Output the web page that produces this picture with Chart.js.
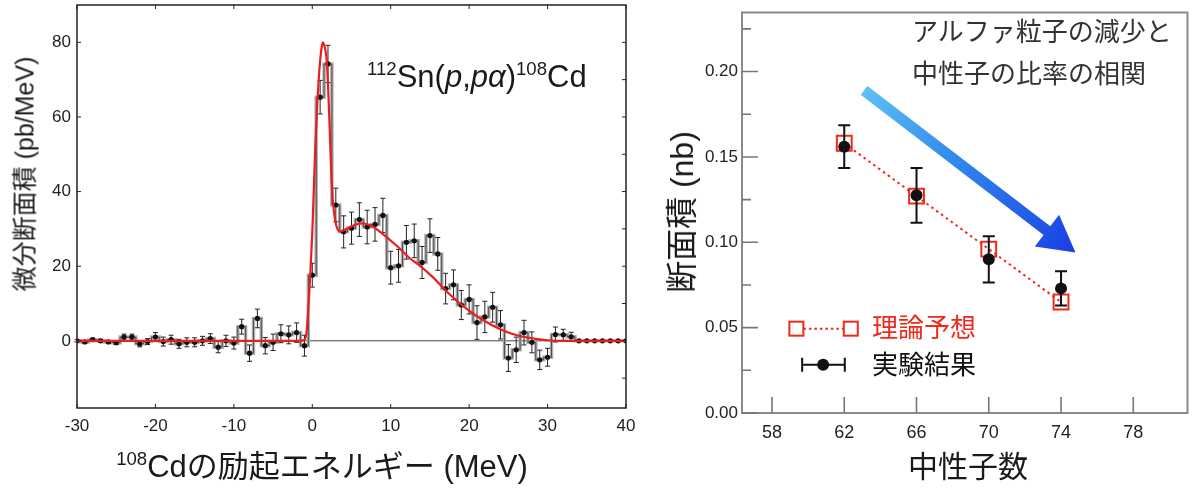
<!DOCTYPE html>
<html><head><meta charset="utf-8">
<script src="https://cdn.jsdelivr.net/npm/chart.js@4.4.0/dist/chart.umd.min.js"></script>
<style>
html,body{margin:0;padding:0;background:#fff;width:1200px;height:490px;overflow:hidden;font-family:"Liberation Sans","Noto Sans CJK JP",sans-serif;}
.box{position:absolute;top:0;}
.t{position:absolute;white-space:nowrap;line-height:1;color:#1a1a1a;}
.c{transform:translate(-50%,-50%);}
.r{transform:translate(-50%,-50%) rotate(-90deg);}
sup{font-size:0.6em;vertical-align:0;position:relative;top:-0.62em;}
</style></head><body>
<div class="box" style="left:0;width:660px;height:490px"><canvas id="c1" width="660" height="490"></canvas></div>
<div class="box" style="left:660px;width:540px;height:490px"><canvas id="c2" width="540" height="490"></canvas></div>

<div class="t r" style="left:25px;top:174px;font-size:25px;">微分断面積 (pb/MeV)</div>
<div class="t c" style="left:322px;top:466px;font-size:31px;"><sup>108</sup>Cdの励起エネルギー (MeV)</div>
<div class="t" style="left:367px;top:61px;font-size:31px;"><sup>112</sup>Sn(<i>p</i>,<i>pα</i>)<sup>108</sup>Cd</div>

<div class="t r" style="left:682px;top:212px;font-size:32px;">断面積 (nb)</div>
<div class="t c" style="left:968px;top:467px;font-size:30px;">中性子数</div>
<div class="t" style="left:912px;top:19px;font-size:26px;color:#333;">アルファ粒子の減少と</div>
<div class="t" style="left:912px;top:61px;font-size:26px;color:#333;">中性子の比率の相関</div>
<div class="t" style="left:872px;top:315px;font-size:26px;color:#f0281c;">理論予想</div>
<div class="t" style="left:872px;top:352px;font-size:26px;color:#111;">実験結果</div>

<script>
// ---------- Left chart data ----------
const energy = [-30,-29,-28,-27,-26,-25,-24,-23,-22,-21,-20,-19,-18,-17,-16,-15,-14,-13,-12,-11,-10,-9,-8,-7,-6,-5,-4,-3,-2,-1,0,1,2,3,4,5,6,7,8,9,10,11,12,13,14,15,16,17,18,19,20,21,22,23,24,25,26,27,28,29,30,31,32,33,34,35,36,37,38,39,40];
const counts = [0,-0.3,0.3,0,-0.3,-0.5,1.0,1.0,-0.8,-0.2,1.0,-0.2,0.3,-0.8,-0.4,-0.4,0,0.6,-1.7,0,-0.6,3.8,-3.3,6.0,-1.3,-0.4,1.9,1.6,2.2,-1.3,17.6,65.3,74.2,36.4,29.2,30.2,32.5,30.5,31.2,33.6,19.6,20.1,26.4,26.8,21.0,28.2,23.3,14.0,15.0,9.6,11.1,4.9,6.4,9.0,4.3,-4.6,-2.4,2.2,-0.4,-5.1,-4.4,1.7,1.6,1.1,0,0,0,0,0,0,0];
const errors = [0.3,0.3,0.4,0.4,0.4,0.5,0.8,0.8,0.8,0.8,1.2,1.2,1.2,1.2,1.2,1.2,1.2,1.3,1.5,1.5,1.6,2.0,2.2,2.5,2.2,2.2,2.4,2.4,2.6,2.8,3.2,4.5,5.0,4.5,4.3,4.3,4.5,4.5,4.5,4.6,4.4,4.4,4.5,4.5,4.3,4.5,4.4,4.1,4.0,3.9,3.9,4.5,4.2,4.0,3.8,3.6,3.4,3.3,2.8,2.6,2.4,2.0,1.5,1.2,0,0,0,0,0,0,0];
const fitEnergy = [-30,-10,-2,-1.0,-0.7,-0.5,-0.25,0,0.2,0.4,0.65,0.9,1.15,1.35,1.55,1.8,2.0,2.2,2.4,2.6,2.9,3.2,3.5,4.2,5.3,6.3,7.6,9.0,10.9,12.5,13.5,15.3,17.4,19.6,21.8,23.9,26.1,28.3,30,32,36,40];
const fitValue = [0,0,0,0.2,3,9,18,29,41,53,64,72.5,78,80,79,76,69,58,46,38,32.5,30,29.3,29.8,31,31.5,30.8,28.6,25.2,22,20.5,17.2,12.7,8.7,5.5,3.2,1.5,0.6,0.15,0,0,0];
const xTicksLeft = [-30,-20,-10,0,10,20,30,40];
const yTicksLeft = [0,20,40,60,80];
const yRightTicksLeft = [-10,0,10,20,30,40,50,60,70,80];

// ---------- Right chart data ----------
const neutrons = [62,66,70,74];
const theory = [0.158,0.127,0.096,0.065];
const experiment = [0.156,0.1275,0.090,0.073];
const expErr = [0.0125,0.016,0.0135,0.010];
const xTicksRight = [58,62,66,70,74,78];
const yTicksRight = [0,0.05,0.10,0.15,0.20];
const yMinorRight = [0.025,0.075,0.125,0.175,0.225];
const arrowFrom = [63.1,0.189];
const arrowTo = [74.8,0.094];

const FONT = '"Liberation Sans","Noto Sans CJK JP",sans-serif';
const RED = '#ee1c1c';

function fixedTicks(list){ return s => { s.ticks = list.map(v => ({value:v})); }; }
function zeroPad(w,h){ return s => { if(w!=null) s.width=w; if(h!=null) s.height=h; s.paddingTop=0; s.paddingBottom=0; s.paddingLeft=0; s.paddingRight=0; }; }

const leftDeco = {
  id:'leftDeco',
  beforeDatasetsDraw(chart){
    const {ctx, chartArea:a, scales:{y}} = chart;
    const y0 = y.getPixelForValue(0);
    ctx.save(); ctx.strokeStyle='#444'; ctx.lineWidth=1;
    ctx.beginPath(); ctx.moveTo(a.left,y0); ctx.lineTo(a.right,y0); ctx.stroke(); ctx.restore();
  },
  beforeDatasetDraw(chart,args){
    if(args.index!==1) return;
    const {ctx, scales:{x,y}} = chart;
    ctx.save(); ctx.strokeStyle='#222'; ctx.lineWidth=1;
    energy.forEach((e,i)=>{
      const err=errors[i]; if(!err) return;
      const cx=x.getPixelForValue(e);
      const y1=y.getPixelForValue(counts[i]+err), y2=y.getPixelForValue(counts[i]-err);
      ctx.beginPath();
      ctx.moveTo(cx,y1); ctx.lineTo(cx,y2);
      ctx.moveTo(cx-2.5,y1); ctx.lineTo(cx+2.5,y1);
      ctx.moveTo(cx-2.5,y2); ctx.lineTo(cx+2.5,y2);
      ctx.stroke();
    });
    ctx.restore();
  },
  afterDraw(chart){
    const {ctx, chartArea:a, scales:{x,y}} = chart;
    ctx.save(); ctx.strokeStyle='#222'; ctx.lineWidth=1.5;
    ctx.strokeRect(a.left,a.top,a.right-a.left,a.bottom-a.top);
    ctx.lineWidth=1; ctx.beginPath();
    xTicksLeft.forEach(v=>{ const p=x.getPixelForValue(v);
      ctx.moveTo(p,a.bottom); ctx.lineTo(p,a.bottom-4);
      ctx.moveTo(p,a.top); ctx.lineTo(p,a.top+4); });
    yTicksLeft.forEach(v=>{ const p=y.getPixelForValue(v);
      ctx.moveTo(a.left,p); ctx.lineTo(a.left+4,p); });
    yRightTicksLeft.forEach(v=>{ const p=y.getPixelForValue(v);
      ctx.moveTo(a.right,p); ctx.lineTo(a.right-4,p); });
    ctx.stroke(); ctx.restore();
  }
};

new Chart(document.getElementById('c1'), {
  type:'line',
  data:{ datasets:[
    { label:'fit', data: fitEnergy.map((e,i)=>({x:e,y:fitValue[i]})), borderColor:RED, borderWidth:2.2,
      pointRadius:0, cubicInterpolationMode:'monotone', fill:false },
    { label:'data', type:'scatter', data: energy.map((e,i)=>({x:e,y:counts[i]})), showLine:false,
      pointRadius:2.6, pointBackgroundColor:'#111', pointBorderColor:'#111', pointBorderWidth:0 },
    { label:'histTop', data: energy.map((e,i)=>({x:e,y:counts[i]})), stepped:'middle', borderColor:'#333',
      borderWidth:0.8, pointRadius:0, fill:false },
    { label:'histShade', data: energy.map((e,i)=>({x:e,y:counts[i]})), stepped:'middle', borderColor:'#b0b0b0',
      borderWidth:3.5, pointRadius:0, fill:false }
  ]},
  options:{
    responsive:false, animation:false, events:[],
    layout:{padding:{left:0,right:34,top:5,bottom:0}},
    plugins:{legend:{display:false}, tooltip:{enabled:false}},
    scales:{
      x:{ type:'linear', min:-30, max:40, grid:{display:false, drawTicks:false}, border:{display:false},
          afterBuildTicks: fixedTicks(xTicksLeft), afterFit: zeroPad(null,82),
          ticks:{ padding:8, color:'#222', font:{family:FONT,size:17}, callback:v=>String(v), maxRotation:0, autoSkip:false } },
      y:{ type:'linear', min:-18, max:90, grid:{display:false, drawTicks:false}, border:{display:false},
          afterBuildTicks: fixedTicks(yTicksLeft), afterFit: zeroPad(77,null),
          ticks:{ padding:6, color:'#222', font:{family:FONT,size:17}, callback:v=>String(v), autoSkip:false } }
    }
  },
  plugins:[leftDeco]
});

const rightDeco = {
  id:'rightDeco',
  beforeDatasetDraw(chart,args){
    if(args.index!==0) return;
    const {ctx, scales:{x,y}} = chart;
    ctx.save(); ctx.strokeStyle='#111'; ctx.lineWidth=2;
    neutrons.forEach((n,i)=>{
      const cx=x.getPixelForValue(n);
      const y1=y.getPixelForValue(experiment[i]+expErr[i]), y2=y.getPixelForValue(experiment[i]-expErr[i]);
      ctx.beginPath();
      ctx.moveTo(cx,y1); ctx.lineTo(cx,y2);
      ctx.moveTo(cx-6,y1); ctx.lineTo(cx+6,y1);
      ctx.moveTo(cx-6,y2); ctx.lineTo(cx+6,y2);
      ctx.stroke();
    });
    ctx.restore();
  },
  afterDraw(chart){
    const {ctx, chartArea:a, scales:{x,y}} = chart;
    ctx.save();
    ctx.strokeStyle='#8a8a8a'; ctx.lineWidth=2;
    ctx.strokeRect(a.left,a.top,a.right-a.left,a.bottom-a.top);
    ctx.lineWidth=1.6; ctx.strokeStyle='#777'; ctx.beginPath();
    xTicksRight.forEach(v=>{ const p=x.getPixelForValue(v); ctx.moveTo(p,a.bottom); ctx.lineTo(p,a.bottom-16); });
    yTicksRight.forEach(v=>{ const p=y.getPixelForValue(v); ctx.moveTo(a.left,p); ctx.lineTo(a.left+16,p); });
    yMinorRight.forEach(v=>{ const p=y.getPixelForValue(v); ctx.moveTo(a.left,p); ctx.lineTo(a.left+9,p); });
    ctx.stroke();
    // arrow
    const p0={x:x.getPixelForValue(arrowFrom[0]), y:y.getPixelForValue(arrowFrom[1])};
    const p1={x:x.getPixelForValue(arrowTo[0]), y:y.getPixelForValue(arrowTo[1])};
    const dx=p1.x-p0.x, dy=p1.y-p0.y, L=Math.hypot(dx,dy), ux=dx/L, uy=dy/L, nx=-uy, ny=ux;
    const sw=5.5, hl=36, hw=20;
    const bx=p1.x-ux*hl, by=p1.y-uy*hl;
    const g=ctx.createLinearGradient(p0.x,p0.y,p1.x,p1.y);
    g.addColorStop(0,'#5cc0f4'); g.addColorStop(0.45,'#2f86ec'); g.addColorStop(1,'#1a3fe4');
    ctx.fillStyle=g; ctx.beginPath();
    ctx.moveTo(p0.x+nx*sw,p0.y+ny*sw);
    ctx.lineTo(bx+nx*sw,by+ny*sw);
    ctx.lineTo(bx+nx*hw,by+ny*hw);
    ctx.lineTo(p1.x,p1.y);
    ctx.lineTo(bx-nx*hw,by-ny*hw);
    ctx.lineTo(bx-nx*sw,by-ny*sw);
    ctx.lineTo(p0.x-nx*sw,p0.y-ny*sw);
    ctx.closePath(); ctx.fill();
    // legend symbols (placed against the axes)
    const ly1=y.getPixelForValue(0.0494), ly2=y.getPixelForValue(0.0282);
    const sq1=x.getPixelForValue(59.35), sq2=x.getPixelForValue(62.36);
    const e1=x.getPixelForValue(59.67), e2=x.getPixelForValue(62.03), ed=x.getPixelForValue(60.83);
    ctx.strokeStyle='#f0281c'; ctx.lineWidth=2;
    ctx.strokeRect(sq1-7,ly1-7,14,14); ctx.strokeRect(sq2-7,ly1-7,14,14);
    ctx.setLineDash([2.5,3]); ctx.beginPath(); ctx.moveTo(sq1+7,ly1); ctx.lineTo(sq2-7,ly1); ctx.stroke(); ctx.setLineDash([]);
    ctx.strokeStyle='#111'; ctx.beginPath();
    ctx.moveTo(e1,ly2); ctx.lineTo(e2,ly2);
    ctx.moveTo(e1,ly2-7); ctx.lineTo(e1,ly2+7);
    ctx.moveTo(e2,ly2-7); ctx.lineTo(e2,ly2+7); ctx.stroke();
    ctx.fillStyle='#111'; ctx.beginPath(); ctx.arc(ed,ly2,6,0,Math.PI*2); ctx.fill();
    ctx.restore();
  }
};

new Chart(document.getElementById('c2'), {
  type:'line',
  data:{ datasets:[
    { label:'実験結果', data: neutrons.map((n,i)=>({x:n,y:experiment[i]})), showLine:false,
      pointRadius:6, pointBackgroundColor:'#111', pointBorderColor:'#111', pointBorderWidth:0 },
    { label:'理論予想', data: neutrons.map((n,i)=>({x:n,y:theory[i]})), borderColor:'#f0281c', borderWidth:2,
      borderDash:[2.5,3.5], pointStyle:'rect', pointRadius:10.5, pointBorderWidth:2,
      pointBorderColor:'#f0281c', pointBackgroundColor:'rgba(255,255,255,0)', tension:0 }
  ]},
  options:{
    responsive:false, animation:false, events:[],
    layout:{padding:{left:0,right:7,top:8,bottom:0}},
    plugins:{legend:{display:false}, tooltip:{enabled:false}},
    scales:{
      x:{ type:'linear', min:56.34, max:81, grid:{display:false, drawTicks:false}, border:{display:false},
          afterBuildTicks: fixedTicks(xTicksRight), afterFit: zeroPad(null,77),
          ticks:{ padding:9, color:'#222', font:{family:FONT,size:18}, callback:v=>String(v), maxRotation:0, autoSkip:false } },
      y:{ type:'linear', min:0, max:0.2346, grid:{display:false, drawTicks:false}, border:{display:false},
          afterBuildTicks: fixedTicks(yTicksRight), afterFit: zeroPad(82,null),
          ticks:{ padding:4, color:'#222', font:{family:FONT,size:17}, callback:v=>v.toFixed(2), autoSkip:false } }
    }
  },
  plugins:[rightDeco]
});
</script>
</body></html>
